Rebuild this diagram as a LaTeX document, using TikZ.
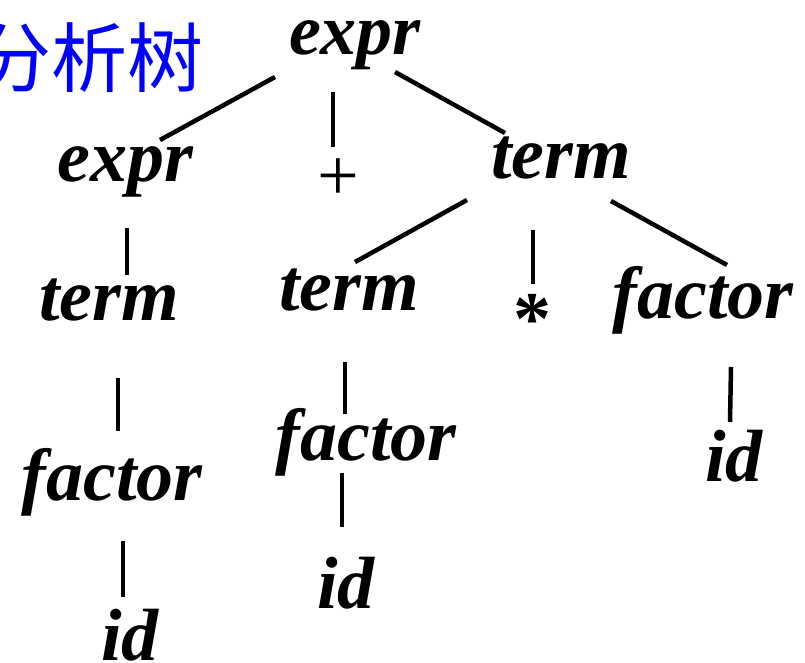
\documentclass[tikz,border=0pt]{standalone}
\usepackage{fontspec}
\setmainfont{Liberation Serif}
\newfontfamily\cjkfont{Noto Sans CJK SC}
\usepackage{xcolor}
\definecolor{colorTitle}{HTML}{0000FF}
\definecolor{colorTree}{HTML}{000000}
\def\colorTitle{colorTitle}
\def\colorTree{colorTree}

\begin{document}
\begin{tikzpicture}[x=1pt, y=-1pt,
    sym/.style={inner sep=0, anchor=base, \colorTree, font=\fontsize{74pt}{80pt}\selectfont\bfseries\itshape},
    op/.style={inner sep=0, anchor=center, \colorTree, font=\fontsize{74pt}{80pt}\selectfont\mdseries\upshape},
    branch/.style={line width=4.5pt, \colorTree}]

    \useasboundingbox (0,0) rectangle (805,662);

    % Titre
    \node[inner sep=0, anchor=west, \colorTitle, font=\fontsize{76pt}{80pt}\selectfont\cjkfont] (title) at (-25,58) {分析树};

    % Noeuds de l'arbre
    \node[sym, font=\fontsize{72pt}{80pt}\selectfont\bfseries\itshape] (root) at (355,54) {expr};
    \node[sym] (e1) at (125,181) {expr};
    \node[op] (plus) at (338,180) {+};
    \node[sym] (t1) at (561,178) {term};
    \node[sym] (t2) at (109,320) {term};
    \node[sym] (t3) at (349,310) {term};
    \node[op, font=\fontsize{76pt}{80pt}\selectfont\bfseries\upshape] (star) at (532,319) {*};
    \node[sym] (f1) at (703,318) {factor};
    \node[sym] (f2) at (112,500) {factor};
    \node[sym] (f3) at (366,460) {factor};
    \node[sym] (id1) at (734,481) {id};
    \node[sym] (id2) at (130,660) {id};
    \node[sym] (id3) at (346,608) {id};

    % Branches
    \draw[branch] ([shift={(-80,23)}]root.base) -- ([shift={(35,-41)}]e1.base);
    \draw[branch] ([shift={(-22,38)}]root.base) -- ([shift={(-5,-33)}]plus.center);
    \draw[branch] ([shift={(40,18)}]root.base) -- ([shift={(-56,-45)}]t1.base);
    \draw[branch] ([shift={(2,47)}]e1.base) -- ([shift={(18,-45)}]t2.base);
    \draw[branch] ([shift={(9,58)}]t2.base) -- ([shift={(6,-69)}]f2.base);
    \draw[branch] ([shift={(11,41)}]f2.base) -- ([shift={(-7,-63)}]id2.base);
    \draw[branch] ([shift={(-94,22)}]t1.base) -- ([shift={(6,-48)}]t3.base);
    \draw[branch] ([shift={(-28,52)}]t1.base) -- ([shift={(1,-35)}]star.center);
    \draw[branch] ([shift={(50,23)}]t1.base) -- ([shift={(24,-53)}]f1.base);
    \draw[branch] ([shift={(-4,52)}]t3.base) -- ([shift={(-21,-46)}]f3.base);
    \draw[branch] ([shift={(-24,13)}]f3.base) -- ([shift={(-4,-81)}]id3.base);
    \draw[branch] ([shift={(28,49)}]f1.base) -- ([shift={(-4,-59)}]id1.base);

\end{tikzpicture}
\end{document}
